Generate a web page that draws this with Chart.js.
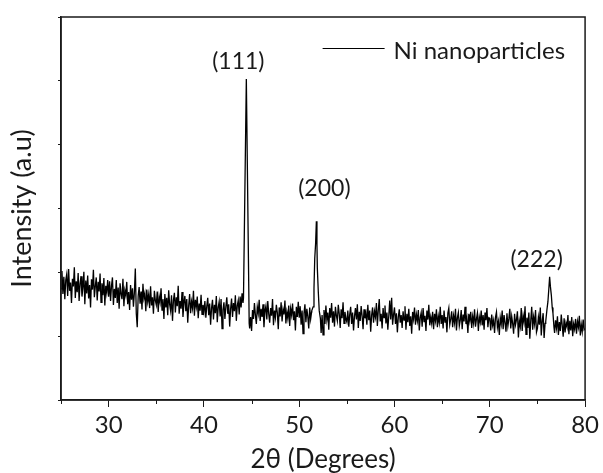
<!DOCTYPE html>
<html>
<head>
<meta charset="utf-8">
<script src="https://cdn.jsdelivr.net/npm/chart.js@4/dist/chart.umd.min.js"></script>
<style>
html, body { margin: 0; padding: 0; background: #fff; }
#wrap { width: 603px; height: 473px; }
</style>
</head>
<body>
<div id="wrap"><canvas id="xrd"></canvas></div>
<script>
// background trace, one reading every 0.1 deg from 25 to 80 (2theta)
var startAngle = 25, angleStep = 0.1;
var background = [
    // 25
    1.74, 2.02, 1.66, 1.93, 1.58, 1.88, 1.97, 1.63, 2.05, 1.71,
    1.84, 1.52, 1.90, 1.78, 2.08, 1.60, 1.86, 1.69, 1.99, 1.55,
    1.82, 1.94, 1.62, 1.76, 2.01, 1.50, 1.87, 1.67, 1.95, 1.59,
    1.80, 1.45, 1.89, 1.73, 2.04, 1.61, 1.78, 1.92, 1.56, 1.85,
    1.70, 1.98, 1.53, 1.83, 1.64, 1.91, 1.48, 1.79, 1.68, 1.88,
    // 30
    1.62, 1.86, 1.55, 1.79, 1.92, 1.49, 1.74, 1.60, 1.88, 1.52,
    1.76, 1.43, 1.83, 1.66, 1.58, 1.90, 1.47, 1.72, 1.64, 1.85,
    1.50, 1.69, 1.41, 1.80, 1.57, 1.75, 1.46, 1.68, 2.06, 1.36,
    1.14, 1.63, 1.77, 1.51, 1.70, 1.42, 1.82, 1.59, 1.67, 1.39,
    1.73, 1.54, 1.65, 1.44, 1.78, 1.48, 1.61, 1.35, 1.71, 1.56,
    // 35
    1.49, 1.70, 1.38, 1.62, 1.53, 1.75, 1.41, 1.58, 1.27, 1.66,
    1.45, 1.60, 1.33, 1.72, 1.50, 1.40, 1.64, 1.24, 1.56, 1.68,
    1.37, 1.61, 1.47, 1.79, 1.35, 1.55, 1.43, 1.69, 1.30, 1.52,
    1.63, 1.39, 1.58, 1.21, 1.48, 1.66, 1.36, 1.54, 1.44, 1.71,
    1.32, 1.57, 1.46, 1.62, 1.28, 1.51, 1.40, 1.65, 1.34, 1.49,
    // 40
    1.38, 1.55, 1.29, 1.47, 1.60, 1.33, 1.51, 1.18, 1.44, 1.57,
    1.26, 1.49, 1.36, 1.63, 1.22, 1.45, 1.54, 1.31, 1.58, 1.12,
    1.41, 1.53, 1.27, 1.46, 1.61, 1.35, 1.50, 1.15, 1.43, 1.59,
    1.30, 1.52, 1.39, 1.64, 1.24, 1.48, 1.56, 1.34, 1.62, 1.45,
    1.67, 1.52, 1.40, 1.40, 1.40, 1.40, 1.40, 1.40, 1.12, 1.30,
    // 45
    1.08, 1.41, 1.27, 1.52, 1.33, 1.19, 1.46, 1.36, 1.57, 1.24,
    1.43, 1.30, 1.50, 1.14, 1.39, 1.47, 1.26, 1.55, 1.35, 1.21,
    1.44, 1.32, 1.58, 1.17, 1.40, 1.29, 1.49, 1.37, 1.11, 1.45,
    1.31, 1.53, 1.23, 1.42, 1.34, 1.56, 1.20, 1.38, 1.28, 1.48,
    1.16, 1.43, 1.33, 1.51, 1.25, 1.39, 1.09, 1.46, 1.30, 1.54,
    // 50
    1.29, 1.47, 1.18, 1.40, 1.04, 1.36, 1.50, 1.22, 1.43, 1.31,
    1.12, 1.45, 1.27, 1.38, 1.30, 1.30, 1.30, 1.30, 1.30, 1.30,
    1.30, 1.30, 1.30, 1.05, 1.33, 1.02, 1.41, 1.19, 1.48, 1.26,
    1.37, 1.10, 1.44, 1.29, 1.52, 1.21, 1.39, 1.15, 1.46, 1.32,
    1.24, 1.49, 1.35, 1.13, 1.42, 1.28, 1.53, 1.20, 1.38, 1.27,
    // 55
    1.22, 1.40, 1.15, 1.34, 1.46, 1.19, 1.37, 1.09, 1.31, 1.44,
    1.26, 1.50, 1.13, 1.38, 1.24, 1.47, 1.32, 1.11, 1.42, 1.28,
    1.36, 1.18, 1.49, 1.25, 1.40, 1.07, 1.33, 1.45, 1.21, 1.39,
    1.30, 1.52, 1.16, 1.41, 1.58, 1.23, 1.35, 1.12, 1.44, 1.29,
    1.48, 1.20, 1.37, 1.10, 1.32, 1.56, 1.26, 1.60, 1.18, 1.34,
    // 60
    1.45, 1.19, 1.36, 1.06, 1.30, 1.42, 1.21, 1.33, 1.13, 1.39,
    1.25, 1.47, 1.10, 1.35, 1.22, 1.43, 1.16, 1.31, 1.04, 1.38,
    1.27, 1.45, 1.18, 1.34, 1.24, 1.41, 1.09, 1.29, 1.37, 1.15,
    1.44, 1.23, 1.32, 1.08, 1.40, 1.26, 1.49, 1.17, 1.30, 1.20,
    1.38, 1.11, 1.35, 1.24, 1.42, 1.14, 1.31, 1.21, 1.46, 1.19,
    // 65
    1.33, 1.12, 1.40, 1.22, 1.30, 1.06, 1.36, 1.44, 1.18, 1.27,
    1.39, 1.14, 1.32, 1.21, 1.43, 1.09, 1.29, 1.37, 1.16, 1.25,
    1.41, 1.11, 1.34, 1.23, 1.46, 1.19, 1.28, 1.05, 1.35, 1.24,
    1.38, 1.13, 1.31, 1.20, 1.42, 1.15, 1.27, 1.36, 1.08, 1.30,
    1.22, 1.40, 1.17, 1.33, 1.10, 1.37, 1.25, 1.44, 1.14, 1.29,
    // 70
    1.28, 1.09, 1.34, 1.17, 1.25, 1.05, 1.30, 1.38, 1.14, 1.23,
    1.02, 1.29, 1.19, 1.40, 1.11, 1.33, 1.21, 1.07, 1.36, 1.16,
    1.27, 1.43, 1.12, 1.31, 1.20, 1.04, 1.35, 1.18, 1.26, 1.39,
    0.98, 1.24, 1.15, 1.44, 1.08, 1.32, 1.22, 1.47, 1.03, 1.29,
    1.13, 1.37, 0.96, 1.25, 1.46, 1.10, 1.30, 1.19, 1.41, 1.06,
    // 75
    1.12, 1.30, 1.18, 1.45, 1.01, 1.24, 1.36, 0.97, 1.20, 1.20,
    1.20, 1.20, 1.20, 1.20, 1.20, 1.20, 1.20, 1.20, 1.05, 1.25,
    1.13, 1.31, 1.02, 1.22, 1.08, 1.34, 1.17, 0.99, 1.28, 1.06,
    1.21, 1.15, 1.33, 1.03, 1.24, 1.09, 1.30, 1.00, 1.19, 1.11,
    1.27, 1.04, 1.23, 1.14, 1.32, 1.01, 1.18, 1.07, 1.26, 1.10,
    // 80
    1.12
];

// the three reflections, read at finer steps
var peak111Angles = [44.15, 44.45, 44.75];
var peak111Counts = [1.60, 5.03, 1.20];
var peak200Angles = [51.32, 51.46, 51.55, 51.63, 51.72, 51.8, 51.86, 51.9, 52.0, 52.1, 52.22];
var peak200Counts = [1.40, 1.46, 1.75, 2.22, 2.45, 2.80, 2.45, 2.07, 1.70, 1.40, 1.28];
var peak222Angles = [75.87, 76.0, 76.1, 76.2, 76.28, 76.36, 76.46, 76.55, 76.63, 76.73];
var peak222Counts = [1.23, 1.42, 1.54, 1.75, 1.93, 1.78, 1.64, 1.45, 1.36, 1.15];
var peakNames = ['(111)', '(200)', '(222)'];

var xTicks = [30, 40, 50, 60, 70, 80];
var xMinorTicks = [25, 35, 45, 55, 65, 75];
var yTicks = [0, 1, 2, 3, 4, 5, 6];

var peaks = [
    [peak111Angles, peak111Counts],
    [peak200Angles, peak200Counts],
    [peak222Angles, peak222Counts]
];

// merge background + peaks into one trace
var points = [];
background.forEach(function(v, i){
    var x = +(startAngle + i * angleStep).toFixed(1);
    var inPeak = peaks.some(function(p){
        return x > p[0][0] && x < p[0][p[0].length - 1];
    });
    if(!inPeak) points.push({x: x, y: v});
});
peaks.forEach(function(p){
    p[0].forEach(function(a, j){ points.push({x: a, y: p[1][j]}); });
});
points.sort(function(a, b){ return a.x - b.x; });

var FONT = 'Lato';
var INK = '#1a1a1a';
// label offsets from each peak top, in pixels
var labelShift = [[-8, -17], [8, -33], [-13, -17]];

var decorations = {
    id: 'decorations',
    afterDatasetsDraw: function(chart){
        var ctx = chart.ctx, area = chart.chartArea;
        var xs = chart.scales.x, ys = chart.scales.y;
        ctx.save();
        ctx.strokeStyle = INK;
        ctx.lineWidth = 1.5;
        ctx.strokeRect(area.left, area.top, area.right - area.left, area.bottom - area.top);

        // minor ticks on the x axis
        ctx.lineWidth = 1;
        xMinorTicks.forEach(function(v){
            var px = Math.round(xs.getPixelForValue(v)) + 0.5;
            ctx.beginPath();
            ctx.moveTo(px, area.bottom);
            ctx.lineTo(px, area.bottom + 4);
            ctx.stroke();
        });

        // hkl labels over the peaks
        ctx.font = '23px ' + FONT;
        ctx.fillStyle = INK;
        ctx.textAlign = 'center';
        ctx.textBaseline = 'middle';
        peaks.forEach(function(p, i){
            var top = Math.max.apply(null, p[1]);
            var at = p[0][p[1].indexOf(top)];
            ctx.fillText(peakNames[i],
                xs.getPixelForValue(at) + labelShift[i][0],
                ys.getPixelForValue(top) + labelShift[i][1]);
        });

        // legend, top right inside the frame
        var ds = chart.data.datasets[0];
        ctx.font = '24px ' + FONT;
        ctx.textAlign = 'left';
        ctx.textBaseline = 'alphabetic';
        var w = ctx.measureText(ds.label).width;
        var tx = area.right - 20 - w;
        ctx.fillText(ds.label, tx, area.top + 42);
        ctx.strokeStyle = ds.borderColor;
        ctx.lineWidth = 1;
        ctx.beginPath();
        ctx.moveTo(tx - 71, area.top + 31.5);
        ctx.lineTo(tx - 9, area.top + 31.5);
        ctx.stroke();
        ctx.restore();
    }
};

Chart.defaults.font.family = FONT;
Chart.defaults.color = INK;

var ctx = document.getElementById('xrd').getContext('2d');
var chart = new Chart(ctx, {
    type: 'line',
    data: {
        datasets: [{
            label: 'Ni nanoparticles',
            data: points,
            borderColor: '#000',
            backgroundColor: '#000',
            borderWidth: 1.3,
            pointRadius: 0,
            tension: 0
        }]
    },
    options: {
        responsive: true,
        maintainAspectRatio: false,
        animation: false,
        devicePixelRatio: 1,
        layout: { padding: { top: 17, right: 14, left: 0, bottom: 0 } },
        plugins: {
            tooltip: { enabled: false },
            legend: { display: false }
        },
        scales: {
            x: {
                type: 'linear',
                min: 25,
                max: 80,
                afterFit: function(s){ s.height = 73; },
                afterBuildTicks: function(s){
                    s.ticks = xTicks.map(function(v){ return {value: v}; });
                },
                ticks: { font: { size: 24 }, padding: 4, maxRotation: 0, autoSkip: false },
                grid: { drawOnChartArea: false, drawTicks: true, tickLength: 7, color: INK, lineWidth: 1 },
                border: { color: INK, width: 1.5 },
                title: {
                    display: true,
                    text: '2θ (Degrees)',
                    font: { size: 26, lineHeight: 1 },
                    padding: 0
                }
            },
            y: {
                min: 0,
                max: 6,
                afterFit: function(s){ s.width = 61; },
                afterBuildTicks: function(s){
                    s.ticks = yTicks.map(function(v){ return {value: v}; });
                },
                ticks: { display: false },
                grid: { drawOnChartArea: false, drawTicks: true, tickLength: 3, color: INK, lineWidth: 1 },
                border: { color: INK, width: 1.5 },
                title: {
                    display: true,
                    text: 'Intensity (a.u)',
                    font: { size: 27 },
                    padding: { top: 6 }
                }
            }
        }
    },
    plugins: [decorations]
});
</script>
</body>
</html>
